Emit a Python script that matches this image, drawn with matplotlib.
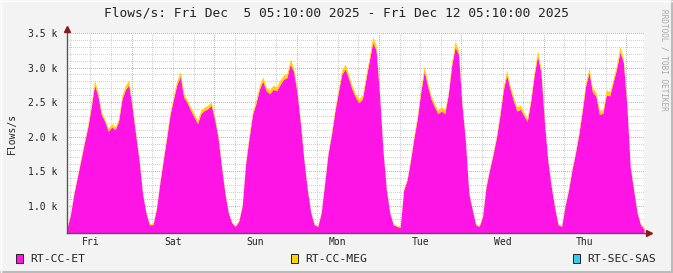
import numpy as np
import matplotlib
matplotlib.use('Agg')
import matplotlib.pyplot as plt
from matplotlib.patches import Rectangle
from matplotlib.lines import Line2D

# hourly samples, Fri Dec 5 05:10 -> Fri Dec 12 05:10
et_flows = [
    675, 870, 1175, 1415, 1655, 1900, 2125, 2415, 2750, 2595, 2320, 2220,
    2080, 2140, 2100, 2220, 2545, 2685, 2750, 2415, 2030, 1655, 1175, 895,
    725, 725, 945, 1320, 1655, 1980, 2320, 2545, 2760, 2870, 2570, 2490,
    2380, 2285, 2190, 2335, 2380, 2405, 2455, 2250, 1980, 1560, 1175, 895,
    750, 700, 775, 995, 1610, 1980, 2320, 2480, 2685, 2805, 2665, 2620,
    2685, 2665, 2750, 2830, 2855, 3050, 2940, 2635, 2175, 1655, 1225, 895,
    725, 700, 895, 1320, 1755, 2030, 2370, 2645, 2905, 2980, 2840, 2685,
    2570, 2490, 2545, 2830, 3095, 3365, 3255, 2610, 1805, 1225, 895, 725,
    700, 685, 1225, 1370, 1655, 1980, 2270, 2645, 2950, 2735, 2545, 2430,
    2335, 2370, 2335, 2610, 3030, 3300, 3190, 2465, 1945, 1175, 945, 725,
    700, 845, 1275, 1515, 1735, 1980, 2295, 2665, 2895, 2690, 2520, 2370,
    2395, 2310, 2220, 2510, 2885, 3170, 2935, 2220, 1655, 1275, 970, 725,
    700, 995, 1225, 1515, 1755, 2030, 2370, 2735, 2930, 2645, 2590, 2325,
    2335, 2605, 2590, 2785, 2980, 3225, 3075, 2465, 1560, 1225, 895, 725,
    665,
]
meg_flows = [
    15, 15, 25, 25, 25, 25, 40, 40, 70, 55, 40, 40,
    40, 50, 40, 40, 55, 60, 70, 40, 40, 25, 25, 15,
    15, 15, 15, 25, 25, 40, 40, 55, 60, 70, 55, 40,
    50, 50, 50, 50, 50, 50, 50, 40, 40, 25, 25, 15,
    15, 15, 15, 15, 25, 40, 40, 50, 60, 60, 55, 55,
    60, 55, 70, 60, 60, 70, 60, 40, 40, 25, 25, 15,
    15, 15, 15, 25, 25, 40, 40, 55, 60, 70, 60, 55,
    55, 60, 55, 60, 60, 80, 70, 40, 25, 25, 15, 15,
    15, 15, 25, 25, 25, 40, 40, 55, 70, 55, 55, 50,
    50, 60, 50, 40, 55, 80, 60, 40, 25, 25, 15, 15,
    15, 15, 25, 25, 25, 40, 40, 55, 70, 55, 55, 60,
    60, 50, 40, 40, 55, 80, 55, 40, 25, 25, 15, 15,
    15, 15, 25, 25, 25, 40, 40, 55, 60, 55, 60, 60,
    50, 70, 60, 55, 60, 80, 60, 40, 25, 25, 15, 15,
    15,
]
day_labels = ['Fri', 'Sat', 'Sun', 'Mon', 'Tue', 'Wed', 'Thu']
series_names = ['RT-CC-ET', 'RT-CC-MEG', 'RT-SEC-SAS']
series_colors = ['#FF14E6', '#FFD200', '#33CCF5']

start_hour = 5 + 10 / 60.0
hours = np.arange(len(et_flows))
et = np.array(et_flows, dtype=float)
meg = np.array(meg_flows, dtype=float)

mono = 'DejaVu Sans Mono'
W, H = 673, 273
fig = plt.figure(figsize=(W / 100, H / 100), dpi=100)
fig.patch.set_facecolor('#F3F3F3')

x0, x1, ytop, ybot = 67, 644, 33, 233.3
ax = fig.add_axes([x0 / W, 1 - ybot / H, (x1 - x0) / W, (ybot - ytop) / H])
ax.set_facecolor('white')
ax.set_xlim(0, 168)
ax.set_ylim(600, 3500)

# dotted grid
grid_kw = dict(lw=0.72, ls=(0, (1, 2)), antialiased=False, zorder=1)
minor_x = np.arange(24 - start_hour - 18, 168, 6)
major_x = np.arange(24 - start_hour, 168, 24)
for xv in minor_x:
    ax.axvline(xv, color='#D0D0D0', **grid_kw)
for xv in major_x:
    ax.axvline(xv, color='#E6A4A4', **grid_kw)
for yv in np.arange(700, 3501, 100):
    c = '#E6A4A4' if yv % 500 == 0 else '#D0D0D0'
    ax.axhline(yv, color=c, **grid_kw)

ax.fill_between(hours, 0, et, color=series_colors[0], lw=0, zorder=2)
ax.fill_between(hours, et, et + meg, color=series_colors[1], lw=0, zorder=2)

for s in ax.spines.values():
    s.set_visible(False)
ax.plot([0, 0], [600, 3500], color='#555555', lw=1.0, zorder=4, clip_on=False)
ax.plot([0, 169.5], [600, 600], color='#555555', lw=1.0, zorder=4, clip_on=False)
ax.plot([0], [3560], marker='^', color='#8B1A1A', ms=5, zorder=5, clip_on=False)
ax.plot([169.6], [600], marker='>', color='#8B1A1A', ms=5, zorder=5, clip_on=False)

ax.set_yticks(np.arange(1000, 3501, 500))
ax.set_yticklabels(['%.1f k' % (v / 1000) for v in np.arange(1000, 3501, 500)])
noon_x = np.arange(12 - start_hour, 168, 24)
ax.set_xticks(noon_x)
ax.set_xticklabels(day_labels)
ax.tick_params(axis='both', length=0, labelsize=7, labelcolor='#222222')
ax.tick_params(axis='y', pad=7)
ax.tick_params(axis='x', pad=3)
for lab in ax.get_xticklabels() + ax.get_yticklabels():
    lab.set_family(mono)
ax.set_ylabel('Flows/s', family=mono, fontsize=7, color='#222222', labelpad=8)

fig.text(336 / W, 1 - 13 / H, 'Flows/s: Fri Dec  5 05:10:00 2025 - Fri Dec 12 05:10:00 2025',
         family=mono, fontsize=9.3, ha='center', va='center', color='#222222')
fig.text(664 / W, 1 - 60 / H, 'RRDTOOL / TOBI OETIKER', family=mono, fontsize=5.6,
         rotation=270, ha='center', va='center', color='#AAAAAA')

# legend
leg_x = [16, 291, 573]
for lx, name, col in zip(leg_x, series_names, series_colors):
    fig.patches.append(Rectangle((lx / W, 1 - 263 / H), 7 / W, 9 / H, transform=fig.transFigure,
                                 facecolor=col, edgecolor='#222222', lw=0.7))
    fig.text((lx + 14) / W, 1 - 258.5 / H, name, family=mono, fontsize=8.2,
             ha='left', va='center', color='#222222')

# frame shading
fig.lines.append(Line2D([1 - 1.5 / W, 1 - 1.5 / W], [0, 1], transform=fig.transFigure, color='#BBBBBB', lw=2.2))
fig.lines.append(Line2D([0, 1], [1.5 / H, 1.5 / H], transform=fig.transFigure, color='#BBBBBB', lw=2.2))
fig.lines.append(Line2D([0.5 / W, 0.5 / W], [0, 1], transform=fig.transFigure, color='#FFFFFF', lw=1))
fig.lines.append(Line2D([0, 1], [1 - 0.5 / H, 1 - 0.5 / H], transform=fig.transFigure, color='#FFFFFF', lw=1))

fig.savefig('out.png', dpi=100, facecolor=fig.get_facecolor())
